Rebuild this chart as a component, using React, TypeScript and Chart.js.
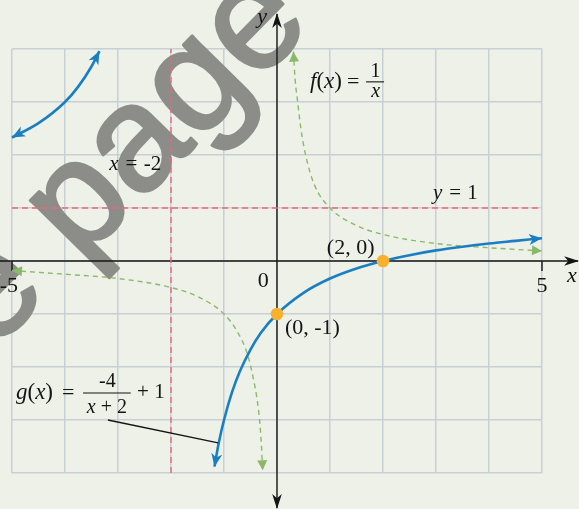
import React, { useEffect, useRef } from "react";
import { Chart, registerables } from "chart.js";

Chart.register(...registerables);

// ---------------- data ----------------
const xMin = -5;
const xMax = 5;
const yMin = -4;
const yMax = 4;

// g(x) = -4/(x+2) + 1, left branch
const gLeftX = [-5, -4.5, -4, -3.75, -3.5, -3.35];
const gLeftY = [2.33, 2.6, 3.0, 3.29, 3.67, 3.96];
// g(x), right branch
const gRightX = [-1.18, -1.1, -1.0, -0.85, -0.7, -0.5, -0.3, 0, 0.5, 1, 1.5, 2, 2.5, 3, 3.5, 4, 4.5, 5];
const gRightY = [-3.88, -3.44, -3.0, -2.48, -2.08, -1.67, -1.35, -1.0, -0.6, -0.33, -0.14, 0, 0.11, 0.2, 0.27, 0.33, 0.38, 0.43];

// f(x) = 1/x, left branch
const fLeftX = [-5, -4, -3, -2, -1.5, -1, -0.75, -0.56, -0.45, -0.37, -0.32, -0.29, -0.27];
const fLeftY = [-0.18, -0.25, -0.33, -0.5, -0.67, -1.0, -1.33, -1.75, -2.2, -2.65, -3.1, -3.55, -3.95];
// f(x), right branch
const fRightX = [0.31, 0.34, 0.39, 0.45, 0.54, 0.7, 1, 1.5, 2, 3, 4, 5];
const fRightY = [3.95, 3.45, 3.0, 2.5, 2.0, 1.45, 1.0, 0.67, 0.5, 0.33, 0.25, 0.19];

// asymptotes
const asymptoteX = -2;
const asymptoteY = 1;

// key points
const keyX = [0, 2];
const keyY = [-1, 0];
const keyLabels = ["(0, -1)", "(2, 0)"];

// axis tick labels
const tickValues = [-5, 5];
const tickLabels = ["-5", "5"];

// ---------------- styles ----------------
const BG = "#edf1e8";
const GRID = "#c8d0d6";
const BLUE = "#1a7fc2";
const GREEN = "#8cb86c";
const RED = "#ef6579";
const ORANGE = "#f8b12f";
const INK = "#141414";
const WATERMARK = "#8c8d89";
const SERIF = '"Liberation Serif", "DejaVu Serif", serif';

const zip = (xs: number[], ys: number[]) => xs.map((x, i) => ({ x, y: ys[i] }));

type ArrowSpec = { len: number; half: number; barbed: boolean; color: string };
const arrowSpecs: Record<string, ArrowSpec> = {
  gLeft: { len: 13, half: 5.5, barbed: true, color: BLUE },
  gRight: { len: 13, half: 5.5, barbed: true, color: BLUE },
  fLeft: { len: 10, half: 5, barbed: false, color: GREEN },
  fRight: { len: 10, half: 5, barbed: false, color: GREEN },
};

function arrow(ctx: CanvasRenderingContext2D, tx: number, ty: number, ang: number, len: number, half: number, color: string, barbed: boolean) {
  ctx.save();
  ctx.translate(tx, ty);
  ctx.rotate(ang);
  ctx.beginPath();
  ctx.moveTo(0, 0);
  ctx.lineTo(-len, -half);
  if (barbed) ctx.lineTo(-len * 0.72, 0);
  ctx.lineTo(-len, half);
  ctx.closePath();
  ctx.fillStyle = color;
  ctx.fill();
  ctx.restore();
}

function font(italic: boolean, size: number) {
  return `${italic ? "italic " : ""}${size}px ${SERIF}`;
}

// draw mixed italic/roman runs
function runs(ctx: CanvasRenderingContext2D, parts: [string, boolean][], x: number, y: number, align: "left" | "center" | "right", size: number) {
  let w = 0;
  for (const [s, it] of parts) {
    ctx.font = font(it, size);
    w += ctx.measureText(s).width;
  }
  let cx = align === "center" ? x - w / 2 : align === "right" ? x - w : x;
  ctx.textAlign = "left";
  ctx.textBaseline = "alphabetic";
  ctx.fillStyle = INK;
  for (const [s, it] of parts) {
    ctx.font = font(it, size);
    ctx.fillText(s, cx, y);
    cx += ctx.measureText(s).width;
  }
}

const bgPlugin = {
  id: "bgFill",
  beforeDraw(chart: any) {
    const { ctx, width, height } = chart;
    ctx.save();
    ctx.fillStyle = BG;
    ctx.fillRect(0, 0, width, height);
    ctx.restore();
  },
};

const underlayPlugin = {
  id: "underlay",
  beforeDatasetsDraw(chart: any) {
    const ctx: CanvasRenderingContext2D = chart.ctx;
    const xs = chart.scales.x;
    const ys = chart.scales.y;
    const X = (v: number) => xs.getPixelForValue(v);
    const Y = (v: number) => ys.getPixelForValue(v);

    // watermark
    ctx.save();
    ctx.translate(80, 263);
    ctx.rotate((-45.5 * Math.PI) / 180);
    ctx.font = '150px "Liberation Sans", Arial, sans-serif';
    ctx.fillStyle = WATERMARK;
    ctx.strokeStyle = WATERMARK;
    ctx.lineWidth = 3;
    ctx.lineJoin = "round";
    ctx.textAlign = "left";
    ctx.textBaseline = "alphabetic";
    const pre = ctx.measureText("See ").width;
    ctx.fillText("See page", -pre, 0);
    ctx.strokeText("See page", -pre, 0);
    ctx.restore();

    // axes
    ctx.save();
    ctx.strokeStyle = INK;
    ctx.lineWidth = 1.4;
    const x0 = X(0);
    const y0 = Y(0);
    ctx.beginPath();
    ctx.moveTo(0, y0);
    ctx.lineTo(X(5.68), y0);
    ctx.moveTo(x0, Y(4.66));
    ctx.lineTo(x0, Y(-4.66));
    ctx.stroke();
    arrow(ctx, X(5.7), y0, 0, 15, 4.8, INK, true);
    arrow(ctx, x0, Y(4.68), -Math.PI / 2, 15, 4.8, INK, true);
    arrow(ctx, x0, Y(-4.68), Math.PI / 2, 15, 4.8, INK, true);
    // ticks at +-5
    ctx.beginPath();
    for (const v of tickValues) {
      ctx.moveTo(X(v), y0);
      ctx.lineTo(X(v), y0 + 10);
    }
    ctx.stroke();
    ctx.restore();
  },
};

const overlayPlugin = {
  id: "overlay",
  afterDraw(chart: any) {
    const ctx: CanvasRenderingContext2D = chart.ctx;
    const xs = chart.scales.x;
    const ys = chart.scales.y;
    const X = (v: number) => xs.getPixelForValue(v);
    const Y = (v: number) => ys.getPixelForValue(v);

    // arrowheads on curve ends
    chart.data.datasets.forEach((ds: any, i: number) => {
      const spec = arrowSpecs[ds.label];
      if (!spec) return;
      const pts = chart.getDatasetMeta(i).data;
      const n = pts.length;
      const a1 = Math.atan2(pts[n - 1].y - pts[n - 2].y, pts[n - 1].x - pts[n - 2].x);
      const a0 = Math.atan2(pts[0].y - pts[1].y, pts[0].x - pts[1].x);
      arrow(ctx, pts[n - 1].x, pts[n - 1].y, a1, spec.len, spec.half, spec.color, spec.barbed);
      arrow(ctx, pts[0].x, pts[0].y, a0, spec.len, spec.half, spec.color, spec.barbed);
    });

    ctx.save();
    // pointer line for g(x)
    ctx.strokeStyle = INK;
    ctx.lineWidth = 1.3;
    ctx.beginPath();
    ctx.moveTo(X(-3.19), Y(-3.0));
    ctx.lineTo(X(-1.11), Y(-3.43));
    ctx.stroke();

    // axis names
    runs(ctx, [["y", true]], X(-0.28), Y(4.49), "center", 22);
    runs(ctx, [["x", true]], X(5.47), Y(-0.4), "left", 22);

    // tick labels
    ctx.font = font(false, 22);
    ctx.fillStyle = INK;
    ctx.textBaseline = "alphabetic";
    ctx.textAlign = "right";
    ctx.fillText(tickLabels[0], X(tickValues[0]) + 6, Y(-0.585));
    ctx.textAlign = "center";
    ctx.fillText(tickLabels[1], X(tickValues[1]), Y(-0.585));
    ctx.fillText("0", X(-0.26), Y(-0.49));

    // asymptote labels
    runs(ctx, [["x", true]], X(-3.075), Y(1.717), "center", 21);
    runs(ctx, [["=", false]], X(-2.745), Y(1.717), "center", 21);
    runs(ctx, [["-2", false]], X(-2.35), Y(1.717), "center", 21);
    runs(ctx, [["y", true]], X(3.03), Y(1.17), "center", 21);
    runs(ctx, [["=", false]], X(3.36), Y(1.17), "center", 21);
    runs(ctx, [["1", false]], X(3.69), Y(1.17), "center", 21);

    // f(x) = 1/x
    runs(ctx, [["f", true], ["(", false], ["x", true], [")", false]], X(1.226), Y(3.26), "right", 23);
    runs(ctx, [["=", false]], X(1.44), Y(3.26), "center", 22);
    ctx.strokeStyle = INK;
    ctx.lineWidth = 1.1;
    ctx.beginPath();
    ctx.moveTo(X(1.68), Y(3.38));
    ctx.lineTo(X(2.02), Y(3.38));
    ctx.stroke();
    runs(ctx, [["1", false]], X(1.86), Y(3.47), "center", 20);
    runs(ctx, [["x", true]], X(1.86), Y(3.09), "center", 20);

    // g(x) = -4/(x+2) + 1
    runs(ctx, [["g", true], ["(", false], ["x", true], [")", false]], X(-4.925), Y(-2.6), "left", 23);
    runs(ctx, [["=", false]], X(-3.94), Y(-2.6), "center", 22);
    ctx.beginPath();
    ctx.moveTo(X(-3.66), Y(-2.49));
    ctx.lineTo(X(-2.76), Y(-2.49));
    ctx.stroke();
    runs(ctx, [["-4", false]], X(-3.2), Y(-2.38), "center", 20);
    runs(ctx, [["x", true], [" + 2", false]], X(-3.21), Y(-2.87), "center", 20);
    runs(ctx, [["+ 1", false]], X(-2.64), Y(-2.585), "left", 21);

    // key point labels
    runs(ctx, [[keyLabels[0], false]], X(0.15), Y(-1.38), "left", 22);
    runs(ctx, [[keyLabels[1], false]], X(0.94), Y(0.13), "left", 22);
    ctx.restore();
  },
};

export default function App() {
  const ref = useRef<HTMLCanvasElement | null>(null);

  useEffect(() => {
    if (!ref.current) return;
    const common = { pointRadius: 0, fill: false, clip: false as any };
    const chart = new Chart(ref.current, {
      type: "line",
      data: {
        datasets: [
          {
            label: "points",
            data: zip(keyX, keyY),
            showLine: false,
            pointRadius: 6.3,
            pointHoverRadius: 6.3,
            pointBackgroundColor: ORANGE,
            pointBorderWidth: 0,
            borderColor: ORANGE,
            order: 0,
            clip: false as any,
          },
          { ...common, label: "gLeft", data: zip(gLeftX, gLeftY), borderColor: BLUE, borderWidth: 2.6, cubicInterpolationMode: "monotone", order: 1 },
          { ...common, label: "gRight", data: zip(gRightX, gRightY), borderColor: BLUE, borderWidth: 2.6, cubicInterpolationMode: "monotone", order: 1 },
          { ...common, label: "fLeft", data: zip(fLeftX, fLeftY), borderColor: GREEN, borderWidth: 1.4, borderDash: [5, 4], cubicInterpolationMode: "monotone", order: 2 },
          { ...common, label: "fRight", data: zip(fRightX, fRightY), borderColor: GREEN, borderWidth: 1.4, borderDash: [5, 4], cubicInterpolationMode: "monotone", order: 2 },
          { ...common, label: "asymX", data: [{ x: asymptoteX, y: yMin }, { x: asymptoteX, y: yMax }], borderColor: RED, borderWidth: 1.4, borderDash: [6, 4], tension: 0, order: 3 },
          { ...common, label: "asymY", data: [{ x: xMin, y: asymptoteY }, { x: xMax, y: asymptoteY }], borderColor: RED, borderWidth: 1.4, borderDash: [6, 4], tension: 0, order: 3 },
        ],
      },
      options: {
        responsive: false,
        devicePixelRatio: 1,
        animation: false,
        events: [],
        layout: { padding: { left: 12, right: 37, top: 49, bottom: 36 } },
        plugins: { legend: { display: false }, tooltip: { enabled: false }, title: { display: false } },
        scales: {
          x: {
            type: "linear",
            min: xMin,
            max: xMax,
            ticks: { display: false, stepSize: 1 },
            grid: { color: GRID, lineWidth: 1.5, drawTicks: false },
            border: { display: false },
          },
          y: {
            type: "linear",
            min: yMin,
            max: yMax,
            ticks: { display: false, stepSize: 1 },
            grid: { color: GRID, lineWidth: 1.5, drawTicks: false },
            border: { display: false },
          },
        },
      },
      plugins: [bgPlugin, underlayPlugin, overlayPlugin],
    } as any);
    return () => chart.destroy();
  }, []);

  return (
    <div style={{ position: "absolute", left: 0, top: 0, width: 579, height: 509 }}>
      <canvas ref={ref} width={579} height={509} style={{ width: 579, height: 509, display: "block" }} />
    </div>
  );
}
